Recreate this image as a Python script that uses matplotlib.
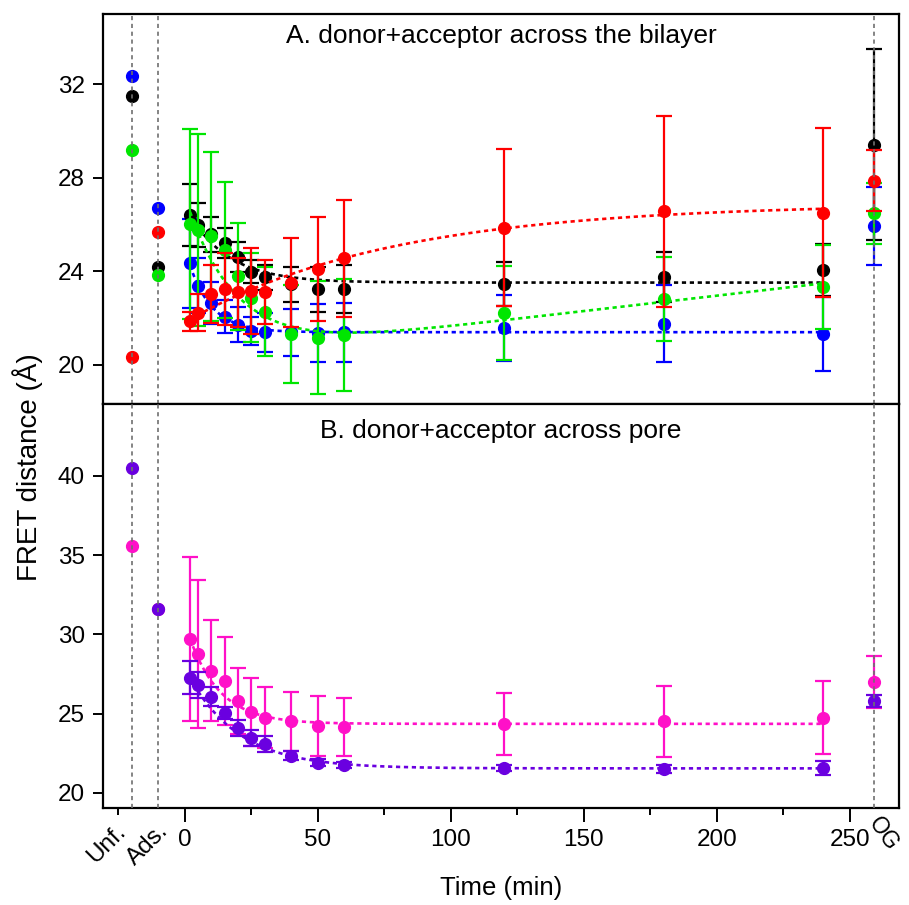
import numpy as np
import matplotlib
matplotlib.use("Agg")
import matplotlib.pyplot as plt
from matplotlib.ticker import FixedLocator

plt.rcParams['font.family'] = ['Liberation Sans', 'DejaVu Sans']

# ---------------- data ----------------
time = [2, 5, 10, 15, 20, 25, 30, 40, 50, 60, 120, 180, 240]
x_unf, x_ads, x_og = -20, -10, 259

# Panel A: donor+acceptor across the bilayer
blue_val = [24.35, 23.39, 22.64, 22.07, 21.71, 21.46, 21.39, 21.39, 21.37, 21.39, 21.57, 21.76, 21.32]
blue_err = [1.9, 1.17, 0.9, 0.7, 0.75, 0.6, 0.83, 1.0, 1.25, 1.25, 1.4, 1.64, 1.6]
blue_unf, blue_ads, blue_og, blue_og_err = 32.33, 26.7, 25.92, 1.67

black_val = [26.41, 25.98, 25.59, 25.2, 24.6, 23.99, 23.74, 23.45, 23.24, 23.24, 23.45, 23.75, 24.06]
black_err = [1.33, 0.93, 0.75, 0.65, 0.64, 0.5, 0.55, 0.75, 0.96, 1.03, 0.95, 1.07, 1.1]
black_unf, black_ads, black_og, black_og_err = 31.5, 24.2, 29.41, 4.08

green_val = [26.02, 25.77, 25.49, 24.92, 23.78, 22.88, 22.28, 21.32, 21.17, 21.29, 22.21, 22.83, 23.32]
green_err = [4.06, 4.09, 3.6, 2.9, 2.3, 1.9, 1.9, 2.1, 2.4, 2.4, 2.0, 1.8, 1.8]
green_unf, green_ads, green_og, green_og_err = 29.19, 23.85, 26.49, 1.3

red_val = [21.86, 22.24, 23.03, 23.24, 23.11, 23.17, 23.11, 23.52, 24.09, 24.56, 25.87, 26.56, 26.51]
red_err = [0.4, 0.8, 1.25, 1.55, 1.48, 1.83, 1.38, 1.92, 2.22, 2.5, 3.37, 4.1, 3.6]
red_unf, red_ads, red_og, red_og_err = 20.32, 25.68, 27.87, 1.3

# Panel B: donor+acceptor across pore
mag_val = [29.72, 28.76, 27.72, 27.07, 25.81, 25.1, 24.76, 24.51, 24.24, 24.16, 24.36, 24.51, 24.76]
mag_err = [5.17, 4.68, 3.2, 2.76, 2.06, 2.14, 1.92, 1.85, 1.9, 1.83, 1.97, 2.23, 2.3]
mag_unf, mag_ads, mag_og, mag_og_err = 35.6, 31.59, 26.97, 1.64

pur_val = [27.28, 26.82, 26.08, 25.04, 24.09, 23.46, 23.08, 22.35, 21.92, 21.78, 21.56, 21.52, 21.56]
pur_err = [1.02, 0.8, 0.6, 0.4, 0.5, 0.5, 0.5, 0.3, 0.2, 0.2, 0.2, 0.25, 0.44]
pur_unf, pur_ads, pur_og, pur_og_err = 40.52, 31.59, 25.81, 0.4

# exponential fit parameters: plateau, amplitude, tau (min), linear slope
fit_blue = (21.4, 3.6, 8.5, 0.0)
fit_black = (23.52, 3.3, 15.0, 0.0)
fit_green = (20.32, 6.9, 18.5, 0.0132)
fit_red = (26.9, -5.08, 77.0, 0.0)
fit_mag = (24.36, 6.37, 11.6, 0.0)
fit_pur = (21.55, 6.33, 19.0, 0.0)

# ---------------- styles ----------------
C_BLUE, C_BLACK, C_GREEN, C_RED = '#0000FF', '#000000', '#00E600', '#FF0000'
C_MAG, C_PUR = '#FF10C8', '#6A00E0'

W, H = 909, 905
fig = plt.figure(figsize=(W / 100, H / 100), dpi=100)
L, R = 103, 899
ax1 = fig.add_axes([L / W, 1 - 404 / H, (R - L) / W, 390 / H])
ax2 = fig.add_axes([L / W, 1 - 808 / H, (R - L) / W, 404 / H])

XL = (-30.75, 268.5)
tfit = np.linspace(2, 240, 400)


def fitcurve(p):
    c, a, tau, m = p
    return c + a * np.exp(-tfit / tau) + m * tfit


def draw(ax, color, vals, errs, unf, ads, og, og_err, fit, z):
    ax.plot(tfit, fitcurve(fit), color=color, lw=1.9, ls=(0, (1.6, 1.4)), zorder=z)
    kw = dict(fmt='o', color=color, ms=8.5, elinewidth=1.6, capsize=5.8, capthick=1.6)
    ax.errorbar(time, vals, yerr=errs, zorder=z + 0.5, **kw)
    ax.errorbar([x_og], [og], yerr=[og_err], zorder=z + 0.5, **kw)
    ax.plot([x_unf, x_ads], [unf, ads], 'o', color=color, ms=8.5, zorder=z + 0.5)


draw(ax1, C_BLUE, blue_val, blue_err, blue_unf, blue_ads, blue_og, blue_og_err, fit_blue, 2)
draw(ax1, C_BLACK, black_val, black_err, black_unf, black_ads, black_og, black_og_err, fit_black, 3)
draw(ax1, C_GREEN, green_val, green_err, green_unf, green_ads, green_og, green_og_err, fit_green, 4)
draw(ax1, C_RED, red_val, red_err, red_unf, red_ads, red_og, red_og_err, fit_red, 5)

draw(ax2, C_MAG, mag_val, mag_err, mag_unf, mag_ads, mag_og, mag_og_err, fit_mag, 2)
draw(ax2, C_PUR, pur_val, pur_err, pur_unf, pur_ads, pur_og, pur_og_err, fit_pur, 3)

for ax in (ax1, ax2):
    for xv in (x_unf, x_ads, x_og):
        ax.axvline(xv, color='#707070', lw=1.2, ls=(0, (2.5, 2.2)), zorder=10)
    ax.set_xlim(*XL)
    for s in ax.spines.values():
        s.set_linewidth(1.6)
    ax.tick_params(axis='y', direction='out', length=7, width=1.4, labelsize=17.5, pad=6)

ax1.set_ylim(18.33, 35.0)
ax1.yaxis.set_major_locator(FixedLocator([20, 24, 28, 32]))
ax1.tick_params(axis='x', which='both', bottom=False, labelbottom=False)

ax2.set_ylim(19.05, 44.54)
ax2.yaxis.set_major_locator(FixedLocator([20, 25, 30, 35, 40]))
ax2.xaxis.set_major_locator(FixedLocator([0, 50, 100, 150, 200, 250]))
ax2.xaxis.set_minor_locator(FixedLocator([-25, 25, 75, 125, 175, 225]))
ax2.tick_params(axis='x', which='major', direction='out', length=10, width=1.4, labelsize=17.5, pad=5)
ax2.tick_params(axis='x', which='minor', direction='out', length=5, width=1.4)

ax1.text(0.5, 1 - 29 / 390, 'A. donor+acceptor across the bilayer', transform=ax1.transAxes,
         ha='center', va='baseline', fontsize=19)
ax2.text(0.5, 1 - 34 / 404, 'B. donor+acceptor across pore', transform=ax2.transAxes,
         ha='center', va='baseline', fontsize=19)

# category labels on the time axis
xt = ax2.get_xaxis_transform()
ax2.text(x_unf - 0.5, -0.03, 'Unf.', transform=xt, rotation=45, ha='right', va='top', fontsize=17.5)
ax2.text(x_ads + 5.5, -0.03, 'Ads.', transform=xt, rotation=45, ha='right', va='top', fontsize=17.5)
ax2.text(x_og + 3.8, -0.012, 'OG', transform=xt, rotation=-55, ha='center', va='top', fontsize=16.5)

fig.text(28 / W, 1 - 467 / H, 'FRET distance (Å)', rotation=90, ha='center', va='center', fontsize=20)
fig.text(((L + R) / 2) / W, 1 - 888 / H, 'Time (min)', ha='center', va='center', fontsize=18.5)

fig.savefig('out.png', dpi=100)
